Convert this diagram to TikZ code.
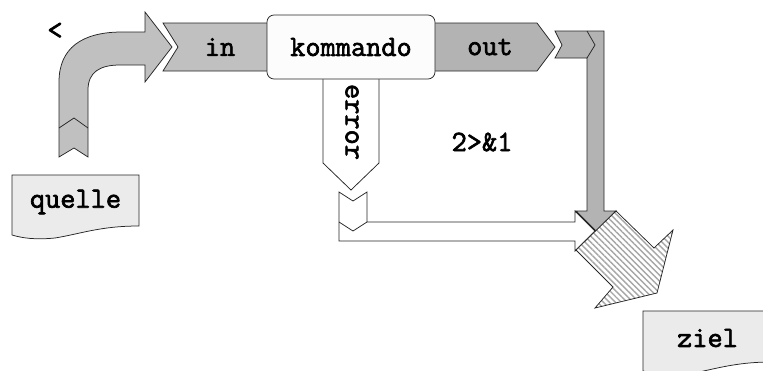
\documentclass[tikz,border=0pt]{standalone}
\usepackage{fontspec}
\newfontfamily\cour[AutoFakeBold=2.2]{Latin Modern Mono}
\usetikzlibrary{patterns.meta}
\definecolor{bandA}{HTML}{C0C0C0}
\definecolor{bandB}{HTML}{B3B3B3}
\definecolor{docfill}{HTML}{EBEBEB}
\definecolor{boxfill}{HTML}{FCFCFC}
\tikzset{
  outl/.style={draw=black!85, line width=0.75pt, line join=miter},
  lbl/.style={font=\fontsize{29.5}{31}\selectfont\cour\bfseries, inner sep=0pt},
  doc/.style={outl, fill=docfill},
}
\begin{document}
\begin{tikzpicture}[x=1pt,y=-1pt]
\useasboundingbox (0,0) rectangle (763,370);
% in band
\draw[outl, fill=bandA] (163,23) -- (300,23) -- (300,71) -- (163,71) -- (178,47) -- cycle;
% out band
\draw[outl, fill=bandB] (400,23) -- (537,23) -- (555,47) -- (537,71) -- (400,71) -- cycle;
% left bent arrow
\draw[outl, fill=bandA] (59,157) -- (59,82) .. controls (59,48) and (82,32) .. (122,32) -- (145,32) -- (145,12) -- (172,47) -- (145,82) -- (145,65) -- (120,65) .. controls (100,65) and (88,72) .. (88,90) -- (88,157) -- (74,148) -- cycle;
\draw[outl] (59,128) -- (74,118) -- (88,128);
% right bent arrow
\draw[outl, fill=bandB] (555,31) -- (604,31) -- (604,211) -- (616,211) -- (596,231) -- (576,211) -- (587,211) -- (587,58) -- (555,58) -- (562,45) -- cycle;
\draw[outl] (587,31) -- (595,45) -- (587,58);
% error arrow
\draw[outl, fill=white] (323,70) -- (379,70) -- (379,163) -- (351,190) -- (323,163) -- cycle;
\node[lbl, rotate=-90] (err) at (352,122) {error};
% bottom white bent arrow
\draw[outl, fill=white] (339,192) -- (353,201) -- (367,192) -- (367,222) -- (575,222) -- (575,211) -- (595,231) -- (575,251) -- (575,241) -- (339,241) -- cycle;
\draw[outl] (339,222) -- (353,231) -- (367,222);
% hatched arrow
\fill[white] (616,211) -- (654,248) -- (673,230) -- (657,293) -- (595,308) -- (613,287) -- (576,250) -- cycle;
\fill[pattern={Lines[angle=-45, distance=4.2pt, line width=1.4pt]}, pattern color=black!35] (616,211) -- (654,248) -- (673,230) -- (657,293) -- (595,308) -- (613,287) -- (576,250) -- cycle;
\draw[outl] (616,211) -- (654,248) -- (673,230) -- (657,293) -- (595,308) -- (613,287) -- (576,250) -- cycle;
% kommando box
\node[outl, fill=boxfill, rounded corners=7pt, minimum width=168pt, minimum height=64pt, inner sep=0pt] (kom) at (351,47) {};
\node[lbl] (komt) at (kom.center) {kommando};
\node[lbl] (in) at (220,47) {in};
\node[lbl] (out) at (490,47) {out};
\node[lbl] (lt) at (55,31) {<};
\node[lbl] (two) at (482,142) {2>\&1};
% documents
\draw[doc] (12,175) -- (139,175) -- (139,226) .. controls (100,226) and (80,234) .. (55,238) .. controls (35,240) and (22,238) .. (12,235) -- cycle;
\node[lbl] (quelle) at (75.5,202) {quelle};
\draw[doc] (643,311) -- (772,311) -- (772,362) .. controls (733,362) and (713,370) .. (688,374) .. controls (668,376) and (655,374) .. (643,371) -- cycle;
\node[lbl] (ziel) at (707.5,338) {ziel};
\end{tikzpicture}
\end{document}
